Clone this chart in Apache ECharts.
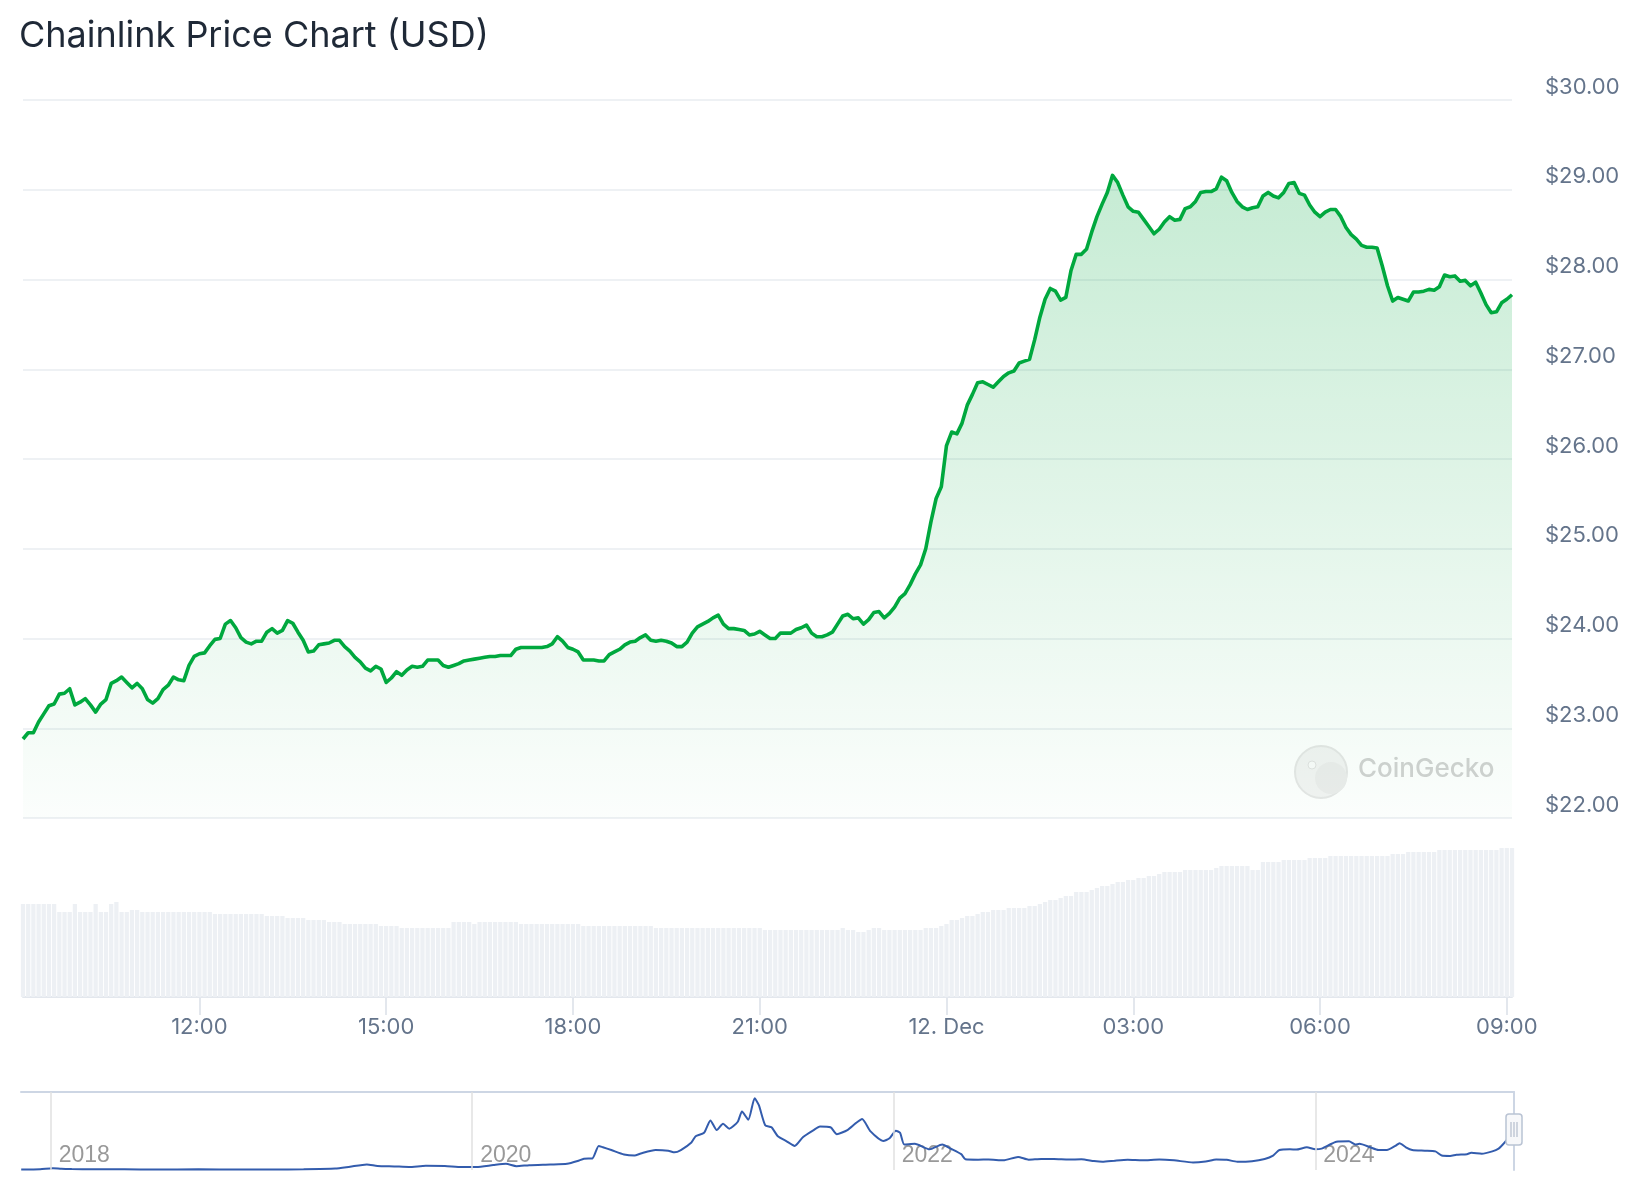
<!DOCTYPE html>
<html><head><meta charset="utf-8">
<script src="https://cdn.jsdelivr.net/npm/echarts@6.0.0/dist/echarts.min.js"></script>
<style>html,body{margin:0;padding:0;background:#fff}#c{width:1644px;height:1200px}</style>
</head><body><div id="c"></div>
<script>
// ---- data (5-minute samples from 11 Dec 09:10 to 12 Dec 09:05) ----
const seriesStart = { hour: 9, minute: 10 };
const stepMinutes = 5;
const priceValues = [
22.88,22.95,22.95,23.07,23.16,23.25,23.27,23.38,23.39,23.44,23.26,23.29,
23.33,23.26,23.18,23.27,23.32,23.50,23.53,23.57,23.51,23.45,23.50,23.44,
23.32,23.28,23.33,23.43,23.48,23.57,23.54,23.53,23.70,23.80,23.83,23.84,
23.92,23.99,24.00,24.16,24.20,24.12,24.01,23.96,23.94,23.97,23.97,24.07,
24.11,24.06,24.09,24.20,24.17,24.07,23.98,23.85,23.86,23.93,23.94,23.95,
23.98,23.98,23.91,23.86,23.79,23.74,23.67,23.64,23.69,23.66,23.51,23.56,
23.63,23.59,23.65,23.69,23.68,23.69,23.76,23.76,23.76,23.70,23.68,23.70,
23.72,23.75,23.76,23.77,23.78,23.79,23.80,23.80,23.81,23.81,23.81,23.88,
23.90,23.90,23.90,23.90,23.90,23.91,23.94,24.02,23.97,23.90,23.88,23.85,
23.76,23.76,23.76,23.75,23.75,23.82,23.85,23.88,23.93,23.96,23.97,24.01,
24.04,23.98,23.97,23.98,23.97,23.95,23.91,23.91,23.96,24.06,24.13,24.16,
24.19,24.23,24.26,24.16,24.11,24.11,24.10,24.09,24.04,24.05,24.08,24.04,
24.00,24.00,24.06,24.06,24.06,24.10,24.12,24.15,24.06,24.02,24.02,24.04,
24.07,24.16,24.25,24.27,24.22,24.23,24.16,24.21,24.29,24.30,24.23,24.28,
24.35,24.45,24.50,24.60,24.72,24.82,25.00,25.30,25.56,25.69,26.15,26.30,
26.28,26.40,26.60,26.72,26.85,26.86,26.83,26.80,26.86,26.92,26.96,26.98,
27.07,27.09,27.11,27.33,27.58,27.78,27.90,27.87,27.77,27.80,28.10,28.28,
28.28,28.34,28.53,28.70,28.84,28.97,29.16,29.08,28.94,28.81,28.76,28.75,
28.67,28.59,28.51,28.56,28.64,28.70,28.66,28.67,28.79,28.81,28.87,28.97,
28.98,28.98,29.01,29.14,29.10,28.97,28.87,28.81,28.78,28.80,28.81,28.93,
28.97,28.93,28.91,28.97,29.07,29.08,28.96,28.94,28.83,28.75,28.70,28.75,
28.78,28.78,28.70,28.58,28.50,28.45,28.38,28.36,28.36,28.35,28.15,27.93,
27.76,27.80,27.78,27.76,27.86,27.86,27.87,27.89,27.88,27.92,28.05,28.03,
28.04,27.98,27.99,27.93,27.97,27.85,27.72,27.63,27.64,27.74,27.78,27.83
];
// 24h volume (USD millions, estimated)
const volumeValues = [
930,930,930,930,930,930,930,850,850,850,930,850,
850,850,930,850,850,930,950,850,850,870,870,850,
850,850,850,850,850,850,850,850,850,850,850,850,
850,830,830,830,830,830,830,830,830,830,830,810,
810,810,810,790,790,790,790,770,770,770,770,750,
750,750,730,730,730,730,730,730,730,710,710,710,
710,690,690,690,690,690,690,690,690,690,690,750,
750,750,750,730,750,750,750,750,750,750,750,750,
730,730,730,730,730,730,730,730,730,730,730,730,
710,710,710,710,710,710,710,710,710,710,710,710,
710,710,690,690,690,690,690,690,690,690,690,690,
690,690,690,690,690,690,690,690,690,690,690,670,
670,670,670,670,670,670,670,670,670,670,670,670,
670,670,690,670,670,650,650,670,690,690,670,670,
670,670,670,670,670,670,690,690,690,710,730,770,
770,790,810,810,830,850,850,870,870,870,890,890,
890,890,910,910,930,950,970,970,990,1010,1010,1050,
1050,1050,1070,1090,1110,1110,1130,1150,1150,1170,1170,1190,
1190,1210,1210,1230,1250,1250,1250,1250,1270,1270,1270,1270,
1270,1270,1290,1310,1310,1310,1310,1310,1310,1270,1270,1350,
1350,1350,1350,1370,1370,1370,1370,1370,1390,1390,1390,1390,
1410,1410,1410,1410,1410,1410,1410,1410,1410,1410,1410,1410,
1430,1430,1430,1450,1450,1450,1450,1450,1450,1470,1470,1470,
1470,1470,1470,1470,1470,1470,1470,1470,1470,1490,1490,1490
];
const priceTicks = { min: 22, max: 30, step: 1 };
// navigator: full history (decimal year, USD)
const navYears = [2017.86,2017.95,2018.01,2018.05,2018.10,2018.20,2018.35,2018.50,2018.70,2018.90,
2019.05,2019.20,2019.35,2019.42,2019.50,2019.55,2019.63,2019.70,2019.78,2019.87,2019.95,
2020.02,2020.10,2020.16,2020.21,2020.27,2020.37,2020.45,2020.50,2020.53,2020.57,2020.60,2020.62,2020.66,2020.72,2020.77,2020.80,2020.87,2020.93,2020.96,2020.99,
2021.04,2021.06,2021.10,2021.13,2021.16,2021.19,2021.22,2021.26,2021.28,2021.31,2021.34,2021.36,2021.39,2021.42,2021.45,2021.49,2021.53,2021.57,2021.62,2021.65,2021.70,2021.73,2021.78,2021.82,2021.85,2021.89,2021.95,2021.98,
2022.01,2022.03,2022.05,2022.10,2022.17,2022.23,2022.27,2022.32,2022.34,2022.40,2022.45,2022.52,2022.59,2022.64,2022.70,2022.76,2022.83,2022.89,2022.95,2022.99,
2023.05,2023.11,2023.18,2023.26,2023.33,2023.42,2023.48,2023.53,2023.58,2023.63,2023.70,2023.76,2023.80,2023.83,2023.88,2023.91,2023.96,
2024.00,2024.03,2024.07,2024.10,2024.16,2024.19,2024.21,2024.26,2024.30,2024.34,2024.38,2024.40,2024.43,2024.46,2024.52,2024.57,2024.60,2024.64,2024.67,2024.72,2024.74,2024.79,2024.84,2024.87,2024.89,2024.91,2024.94];
const navPrices = [0.3,0.5,1.3,0.9,0.7,0.5,0.5,0.4,0.5,0.3,
0.4,0.5,1.0,2.4,4.0,2.9,2.6,2.2,3.0,2.9,2.2,
2.2,3.6,4.5,2.8,3.5,4.0,4.5,6.5,8.2,8.4,17.5,16.5,14.5,11.3,10.5,12.0,14.5,14.0,12.8,14.5,
20.0,24.5,27.0,36.0,29.0,33.5,30.0,35.0,42.5,36.5,52.0,47.0,32.5,31.0,24.5,21.0,17.5,24.0,29.0,31.5,31.0,26.0,29.0,34.0,37.0,28.0,21.0,23.0,
28.5,27.0,18.5,19.0,15.0,18.5,15.5,11.5,7.8,7.5,7.6,7.0,9.5,7.5,8.0,8.0,7.6,7.8,6.5,6.0,
6.8,7.4,7.0,7.6,7.0,5.5,6.2,7.6,7.4,6.0,6.4,8.0,10.5,14.5,15.0,14.8,16.5,
15.0,15.5,18.5,20.5,20.8,18.5,19.0,16.5,14.5,14.5,17.5,19.5,16.5,14.5,14.0,13.5,10.5,10.2,11.0,11.5,12.5,11.8,13.5,15.5,18.5,22.0,27.8];
const navRange = { min: 2017.859, max: 2024.943 };
const yearTicks = [2018, 2020, 2022, 2024];

// ---- build categories ----
const pad = n => (n < 10 ? '0' : '') + n;
const timeLabels = priceValues.map((_, i) => {
  const m = (seriesStart.hour * 60 + seriesStart.minute + i * stepMinutes) % 1440;
  return pad(Math.floor(m / 60)) + ':' + pad(m % 60);
});
const isTick = (idx, v) => v.endsWith(':00') && parseInt(v, 10) % 3 === 0;
const fmtTime = v => (v === '00:00' ? '12. Dec' : v);

const chart = echarts.init(document.getElementById('c'), null, { renderer: 'canvas' });
const labelColor = '#64748b';
chart.setOption({
  animation: false,
  backgroundColor: '#ffffff',
  title: {
    text: 'Chainlink Price Chart (USD)', left: 19, top: 14, padding: 0,
    textStyle: { fontFamily: 'Inter', fontSize: 36, fontWeight: 'normal', color: '#1f2937', lineHeight: 44 }
  },
  grid: [
    { left: 23, right: 132, top: 100, height: 718 },
    { left: 23, right: 132, top: 821, height: 176 },
    { left: 21, right: 130, top: 1092, height: 78 }
  ],
  xAxis: [
    { gridIndex: 0, type: 'category', data: timeLabels, boundaryGap: false, show: false },
    { gridIndex: 1, type: 'category', data: timeLabels, boundaryGap: false,
      axisLine: { show: true, onZero: false, lineStyle: { color: '#e3e7ed', width: 2 } },
      axisTick: { show: true, interval: isTick, length: 18, lineStyle: { color: '#e3e7ed', width: 2 } },
      axisLabel: { interval: isTick, formatter: fmtTime, color: labelColor, fontFamily: 'Inter', fontSize: 22, lineHeight: 22, margin: 19 },
      splitLine: { show: false } },
    { gridIndex: 2, type: 'value', min: navRange.min, max: navRange.max,
      axisLine: { show: false }, axisTick: { show: false }, splitLine: { show: false },
      axisLabel: { customValues: yearTicks, inside: true, formatter: v => String(Math.round(v)), align: 'left',
        padding: [0, 0, 0, 8], color: '#999999', fontFamily: 'Liberation Sans', fontSize: 23, margin: 3 } },
    { gridIndex: 2, type: 'value', position: 'top', min: navRange.min, max: navRange.max,
      axisLine: { show: true, onZero: false, lineStyle: { color: '#cdd6e4', width: 2 } },
      axisTick: { show: false }, axisLabel: { show: false }, splitLine: { show: false } }
  ],
  yAxis: [
    { gridIndex: 0, type: 'value', position: 'right', min: priceTicks.min, max: priceTicks.max, interval: priceTicks.step,
      axisLine: { show: false }, axisTick: { show: false },
      splitLine: { show: true, lineStyle: { color: '#e8ecf1', width: 1.5 } },
      axisLabel: { formatter: v => '$' + v.toFixed(2), color: labelColor, fontFamily: 'Inter', fontSize: 22,
        lineHeight: 22, margin: 33, align: 'left', verticalAlign: 'bottom', padding: [0, 0, 2, 0] } },
    { gridIndex: 1, type: 'value', min: 0, max: 1760, show: false },
    { gridIndex: 2, type: 'value', position: 'right', min: 0, max: 56.6,
      axisLine: { show: true, onZero: false, lineStyle: { color: '#cdd6e4', width: 2 } },
      axisTick: { show: false }, axisLabel: { show: false }, splitLine: { show: false } }
  ],
  series: [
    { type: 'bar', xAxisIndex: 1, yAxisIndex: 1, data: volumeValues, silent: true,
      barCategoryGap: '18%', itemStyle: { color: '#edf0f4' } },
    { type: 'line', xAxisIndex: 0, yAxisIndex: 0, data: priceValues, silent: true,
      showSymbol: false, symbol: 'none',
      lineStyle: { color: '#00a83e', width: 3.6, join: 'round' },
      areaStyle: { origin: 'start', color: new echarts.graphic.LinearGradient(0, 0, 0, 1, [
        { offset: 0, color: 'rgba(0,168,62,0.32)' }, { offset: 0.5, color: 'rgba(0,168,62,0.17)' },
        { offset: 1, color: 'rgba(0,168,62,0.02)' }]) },
      z: 3 },
    { type: 'line', xAxisIndex: 2, yAxisIndex: 2, data: navYears.map((y, i) => [y, navPrices[i]]), silent: true,
      showSymbol: false, symbol: 'none', smooth: 0.2,
      lineStyle: { color: '#335cad', width: 2 },
      markLine: { silent: true, symbol: ['none', 'none'], label: { show: false },
        lineStyle: { color: '#e0e0e0', width: 1.5, type: 'solid' },
        data: yearTicks.map(y => ({ xAxis: y })) } }
  ],
  graphic: [
    { type: 'circle', shape: { cx: 1321, cy: 772, r: 26 }, style: { fill: '#f3f3f3', stroke: '#e6e6e6', lineWidth: 2 }, z: 1, silent: true },
    { type: 'circle', shape: { cx: 1331, cy: 778, r: 16 }, style: { fill: '#ececec' }, z: 1, silent: true },
    { type: 'circle', shape: { cx: 1312, cy: 765, r: 4 }, style: { fill: '#fbfbfb', stroke: '#e2e2e2', lineWidth: 1 }, z: 1, silent: true },
    { type: 'text', left: 1358, top: 756, style: { text: 'CoinGecko', fill: '#d2d2d2', font: '500 26px Inter' }, z: 1, silent: true },
    { type: 'rect', shape: { x: 1506, y: 1114, width: 16, height: 31, r: 3 }, style: { fill: '#f7f8fa', stroke: '#b9c3d3', lineWidth: 1.5 }, z: 10, silent: true },
    { type: 'line', shape: { x1: 1511, y1: 1122, x2: 1511, y2: 1137 }, style: { stroke: '#a6b1c3', lineWidth: 1 }, z: 11, silent: true },
    { type: 'line', shape: { x1: 1514, y1: 1122, x2: 1514, y2: 1137 }, style: { stroke: '#a6b1c3', lineWidth: 1 }, z: 11, silent: true },
    { type: 'line', shape: { x1: 1517, y1: 1122, x2: 1517, y2: 1137 }, style: { stroke: '#a6b1c3', lineWidth: 1 }, z: 11, silent: true }
  ]
});
</script></body></html>
